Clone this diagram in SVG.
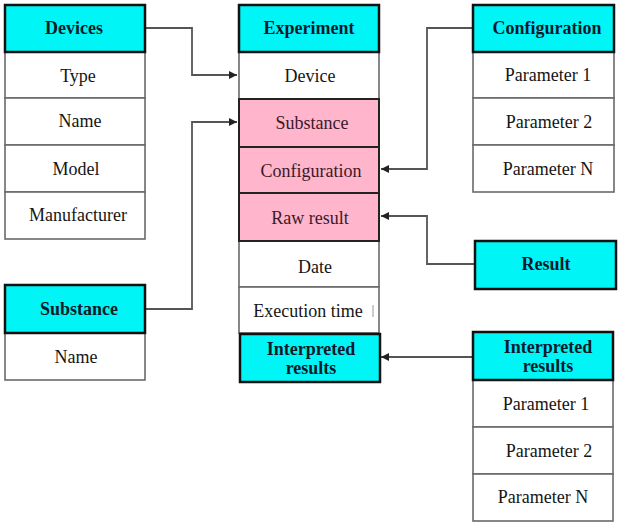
<svg xmlns="http://www.w3.org/2000/svg" width="619" height="525" viewBox="0 0 619 525" font-family="'Liberation Serif', 'Times New Roman', serif">
<style>
.hdr{fill:#00f6f6;stroke:#111;stroke-width:2.5}
.row{fill:#fff;stroke:#6a6a6a;stroke-width:1.6}
.pink{fill:#ffb5cb;stroke:#222;stroke-width:2}
.t{font-family:'Liberation Serif','Times New Roman',serif;font-size:18px;text-anchor:middle;fill:#151515}
.b{font-family:'Liberation Serif','Times New Roman',serif;font-size:18px;font-weight:bold;text-anchor:middle;fill:#0c1a2c}
.p{fill:#3a1a2a}
.c{fill:none;stroke:#555;stroke-width:1.8}
</style>
<defs>
<marker id="ah" viewBox="0 0 10 10" refX="10" refY="5" markerWidth="8" markerHeight="8" markerUnits="userSpaceOnUse" orient="auto">
<path d="M0,0 L10,5 L0,10 Z" fill="#222"/>
</marker>
</defs>
<rect width="619" height="525" fill="#fff"/>

<g id="connectors">
<polyline class="c" points="146,28 192,28 192,75 237,75" marker-end="url(#ah)"/>
<polyline class="c" points="146,309 192,309 192,122 237,122" marker-end="url(#ah)"/>
<polyline class="c" points="473,28 427,28 427,169 381,169" marker-end="url(#ah)"/>
<polyline class="c" points="475,264 427,264 427,216 381,216" marker-end="url(#ah)"/>
<polyline class="c" points="473,357 381,357" marker-end="url(#ah)"/>
</g>

<g id="devices">
<rect class="row" x="5" y="52" width="140" height="46"/>
<rect class="row" x="5" y="98" width="140" height="47"/>
<rect class="row" x="5" y="145" width="140" height="47"/>
<rect class="row" x="5" y="192" width="140" height="47"/>
<rect class="hdr" x="5" y="5" width="140" height="47"/>
<text class="b" x="74" y="34">Devices</text>
<text class="t" x="78" y="82">Type</text>
<text class="t" x="80" y="127">Name</text>
<text class="t" x="76" y="175">Model</text>
<text class="t" x="78" y="221">Manufacturer</text>
</g>

<g id="substance">
<rect class="row" x="5" y="333" width="140" height="47"/>
<rect class="hdr" x="5" y="285" width="140" height="48"/>
<text class="b" x="79" y="315">Substance</text>
<text class="t" x="76" y="363">Name</text>
</g>

<g id="experiment">
<rect class="row" x="239" y="52" width="140" height="47"/>
<rect class="row" x="239" y="241" width="140" height="46"/>
<rect class="row" x="239" y="287" width="140" height="46"/>
<rect x="372" y="305" width="2" height="12" fill="#ccc"/>
<rect class="pink" x="239" y="99" width="140" height="48"/>
<rect class="pink" x="239" y="147" width="140" height="46"/>
<rect class="pink" x="239" y="193" width="140" height="48"/>
<rect class="hdr" x="239" y="5" width="140" height="47"/>
<rect class="hdr" x="240" y="334" width="140" height="48"/>
<text class="b" x="309" y="34">Experiment</text>
<text class="t" x="310" y="82">Device</text>
<text class="t p" x="312" y="129">Substance</text>
<text class="t p" x="311" y="177">Configuration</text>
<text class="t p" x="310" y="224">Raw result</text>
<text class="t" x="315" y="273">Date</text>
<text class="t" x="308" y="317">Execution time</text>
<text class="b" x="311" y="355">Interpreted</text>
<text class="b" x="311" y="374">results</text>
</g>

<g id="configuration">
<rect class="row" x="473" y="52" width="141" height="46"/>
<rect class="row" x="473" y="98" width="141" height="47"/>
<rect class="row" x="473" y="145" width="141" height="47"/>
<rect class="hdr" x="473" y="5" width="141" height="47"/>
<text class="b" x="547" y="34">Configuration</text>
<text class="t" x="548" y="81">Parameter 1</text>
<text class="t" x="549" y="128">Parameter 2</text>
<text class="t" x="548" y="175">Parameter N</text>
</g>

<g id="result">
<rect class="hdr" x="475" y="241" width="141" height="48"/>
<text class="b" x="546" y="270">Result</text>
</g>

<g id="interpreted-results">
<rect class="row" x="473" y="380" width="140" height="47"/>
<rect class="row" x="473" y="427" width="140" height="47"/>
<rect class="row" x="473" y="474" width="140" height="47"/>
<rect class="hdr" x="473" y="332" width="140" height="48"/>
<text class="b" x="548" y="353">Interpreted</text>
<text class="b" x="548" y="372">results</text>
<text class="t" x="546" y="410">Parameter 1</text>
<text class="t" x="549" y="457">Parameter 2</text>
<text class="t" x="543" y="503">Parameter N</text>
</g>
</svg>
